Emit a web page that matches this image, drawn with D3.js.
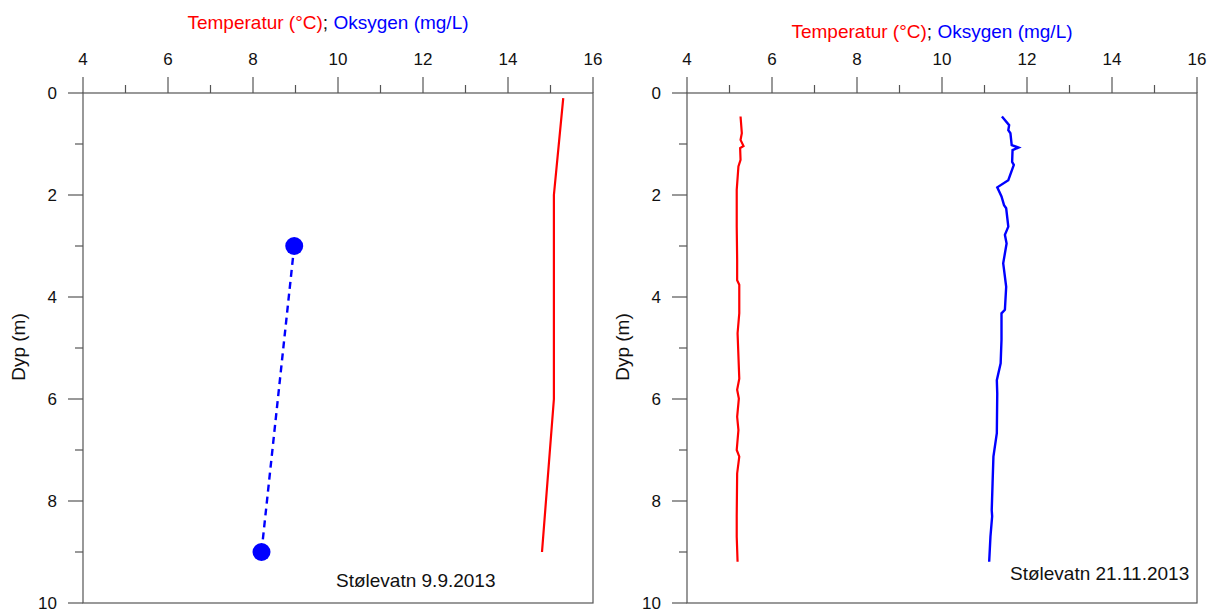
<!DOCTYPE html>
<html lang="no">
<head>
  <meta charset="UTF-8" />
  <title>Stølevatn profiler</title>
  <script src="https://d3js.org/d3.v7.min.js"></script>
  <style>
    body {
      margin: 0;
      background: white;
      font-family: "Liberation Sans", Arial, sans-serif;
    }
    svg text {
      font-size: 19px;
      fill: #111;
    }
    svg text.tick {
      font-size: 17px;
    }
  </style>
</head>
<body>
  <svg width="1208" height="610"></svg>

  <script>
    // Stølevatn 9.9.2013
    const tempDepth1 = [0.1, 2.0, 6.0, 9.0];
    const temp1 = [15.3, 15.08, 15.08, 14.8];
    const oxyDepth1 = [3, 9];
    const oxy1 = [8.97, 8.2];

    // Stølevatn 21.11.2013
    const tempDepth2 = [0.46, 0.79, 0.92, 1.04, 1.08, 1.31, 1.44, 1.9, 2.62, 3.27, 3.67, 3.76, 4.32, 4.71,
      5.6, 5.82, 5.99, 6.35, 6.61, 7.0, 7.13, 7.46, 8.3, 8.7, 9.19];
    const temp2 = [5.26, 5.29, 5.26, 5.33, 5.25, 5.26, 5.21, 5.17, 5.17, 5.18, 5.18, 5.23, 5.23, 5.19,
      5.23, 5.18, 5.22, 5.18, 5.21, 5.17, 5.23, 5.18, 5.17, 5.17, 5.19];
    const oxyDepth2 = [0.46, 0.63, 0.73, 0.79, 1.02, 1.07, 1.12, 1.35, 1.41, 1.71, 1.85, 2.03, 2.2, 2.26,
      2.62, 2.78, 2.95, 3.34, 3.47, 3.8, 4.25, 4.32, 4.84, 5.3, 5.63, 5.89, 6.67, 7.13, 7.65, 8.18, 8.3, 8.7, 9.19];
    const oxy2 = [11.41, 11.58, 11.56, 11.61, 11.64, 11.8, 11.66, 11.65, 11.69, 11.56, 11.3, 11.4, 11.46, 11.51,
      11.56, 11.48, 11.52, 11.44, 11.46, 11.51, 11.48, 11.4, 11.4, 11.38, 11.29, 11.3, 11.29, 11.21, 11.19, 11.17, 11.18, 11.14, 11.11];

    const xTicks = [4, 6, 8, 10, 12, 14, 16];
    const yTicks = [0, 2, 4, 6, 8, 10];

    const panels = [
      { left: 83, titleY: 29, label: "Stølevatn 9.9.2013", labelX: 336, labelY: 587,
        temp: temp1.map((v, i) => [v, tempDepth1[i]]),
        oxy: oxy1.map((v, i) => [v, oxyDepth1[i]]), oxyDots: true },
      { left: 687, titleY: 38, label: "Stølevatn 21.11.2013", labelX: 1010, labelY: 580,
        temp: temp2.map((v, i) => [v, tempDepth2[i]]),
        oxy: oxy2.map((v, i) => [v, oxyDepth2[i]]), oxyDots: false }
    ];

    const svg = d3.select("svg");
    const plotTop = 93, plotBottom = 603, plotW = 510;
    const axisColor = "#555";

    panels.forEach(p => {
      const x = d3.scaleLinear().domain([4, 16]).range([p.left, p.left + plotW]);
      const y = d3.scaleLinear().domain([0, 10]).range([plotTop, plotBottom]);
      const g = svg.append("g");

      // frame
      g.append("rect")
        .attr("x", p.left).attr("y", plotTop)
        .attr("width", plotW).attr("height", plotBottom - plotTop)
        .attr("fill", "none").attr("stroke", axisColor).attr("stroke-width", 1.2);

      // top axis, major + minor ticks
      d3.range(4, 17, 1).forEach(v => {
        const major = v % 2 === 0;
        g.append("line")
          .attr("x1", x(v)).attr("x2", x(v))
          .attr("y1", plotTop).attr("y2", plotTop - (major ? 16 : 8))
          .attr("stroke", axisColor).attr("stroke-width", 1.2);
      });
      g.selectAll(".xl").data(xTicks).join("text")
        .attr("class", "tick")
        .attr("x", d => x(d)).attr("y", 65)
        .attr("text-anchor", "middle")
        .text(d => d);

      // left axis
      d3.range(0, 11, 1).forEach(v => {
        const major = v % 2 === 0;
        g.append("line")
          .attr("x1", p.left).attr("x2", p.left - (major ? 15 : 8))
          .attr("y1", y(v)).attr("y2", y(v))
          .attr("stroke", axisColor).attr("stroke-width", 1.2);
      });
      g.selectAll(".yl").data(yTicks).join("text")
        .attr("class", "tick")
        .attr("x", p.left - 26).attr("y", d => y(d) + 6)
        .attr("text-anchor", "end")
        .text(d => d);

      g.append("text")
        .attr("transform", `translate(${p.left - 58},347) rotate(-90)`)
        .attr("text-anchor", "middle")
        .text("Dyp (m)");

      // title with two colours
      const t = g.append("text")
        .attr("x", p.left + 245).attr("y", p.titleY)
        .attr("text-anchor", "middle");
      t.append("tspan").style("fill", "#ff0000").text("Temperatur (°C)");
      t.append("tspan").style("fill", "#111").text("; ");
      t.append("tspan").style("fill", "#0000ff").text("Oksygen (mg/L)");

      const line = d3.line().x(d => x(d[0])).y(d => y(d[1]));

      g.append("path")
        .datum(p.temp)
        .attr("d", line)
        .attr("fill", "none")
        .attr("stroke", "#ff0000")
        .attr("stroke-width", 2.2);

      g.append("path")
        .datum(p.oxy)
        .attr("d", line)
        .attr("fill", "none")
        .attr("stroke", "#0000ff")
        .attr("stroke-width", 2.4)
        .attr("stroke-dasharray", p.oxyDots ? "7,5" : null);

      if (p.oxyDots) {
        g.selectAll(".dot").data(p.oxy).join("circle")
          .attr("cx", d => x(d[0]))
          .attr("cy", d => y(d[1]))
          .attr("r", 9)
          .attr("fill", "#0000ff");
      }

      g.append("text")
        .attr("x", p.labelX).attr("y", p.labelY)
        .text(p.label);
    });
  </script>
</body>
</html>
